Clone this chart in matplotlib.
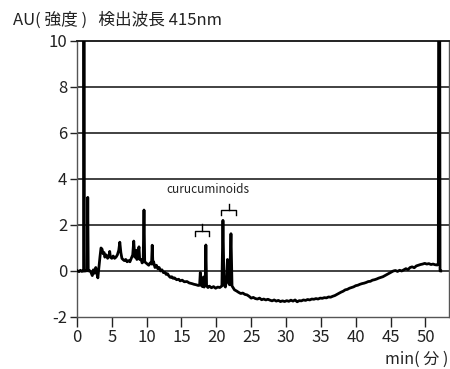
import matplotlib.pyplot as plt

plt.rcParams['font.family'] = ['Noto Sans CJK JP', 'DejaVu Sans']
plt.rcParams['axes.unicode_minus'] = False

# ── chromatogram trace (retention time in min, absorbance in AU) ─────────────
time_min = [
    0.00, 0.30, 0.50, 0.70, 0.90, 0.98, 1.00, 1.04, 1.30, 1.48, 1.55, 1.62,
    1.80, 2.00, 2.20, 2.35, 2.50, 2.70, 2.85, 3.00, 3.10, 3.30, 3.45, 3.60,
    3.75, 3.90, 4.00, 4.20, 4.40, 4.60, 4.70, 4.80, 5.00, 5.20, 5.40, 5.60,
    5.80, 6.00, 6.15, 6.30, 6.45, 6.60, 6.80, 7.00, 7.20, 7.40, 7.60, 7.80,
    8.00, 8.15, 8.30, 8.50, 8.60, 8.75, 8.90, 9.00, 9.20, 9.35, 9.50, 9.62,
    9.72, 9.90, 10.1, 10.3, 10.5, 10.7, 10.8, 10.9, 11.0, 11.2, 11.4, 11.6,
    11.8, 12.0, 12.2, 12.4, 12.6, 12.8, 13.0, 13.2, 13.4, 13.6, 13.8, 14.0,
    14.3, 14.6, 14.8, 15.1, 15.4, 15.8, 16.1, 16.5, 16.8, 17.1, 17.4, 17.6,
    17.7, 17.8, 18.0, 18.15, 18.25, 18.4, 18.5, 18.6, 18.8, 19.0, 19.3, 19.6,
    19.9, 20.2, 20.5, 20.8, 20.95, 21.1, 21.3, 21.45, 21.6, 21.75, 21.9, 22.1,
    22.25, 22.4, 22.6, 22.9, 23.2, 23.5, 23.8, 24.1, 24.4, 24.7, 25.0, 25.3,
    25.6, 25.9, 26.2, 26.5, 26.8, 27.1, 27.4, 27.7, 28.0, 28.3, 28.6, 28.9,
    29.2, 29.5, 29.8, 30.1, 30.4, 30.7, 31.0, 31.3, 31.6, 31.9, 32.2, 32.5,
    32.8, 33.1, 33.4, 33.7, 34.0, 34.3, 34.6, 34.9, 35.2, 35.5, 35.8, 36.1,
    36.4, 36.7, 37.0, 37.3, 37.6, 37.9, 38.2, 38.5, 38.8, 39.1, 39.4, 39.7,
    40.0, 40.3, 40.6, 40.9, 41.2, 41.5, 41.8, 42.1, 42.4, 42.7, 43.0, 43.3,
    43.6, 43.9, 44.2, 44.5, 44.8, 45.1, 45.4, 45.7, 46.0, 46.3, 46.6, 46.9,
    47.2, 47.5, 47.8, 48.1, 48.4, 48.7, 49.0, 49.3, 49.6, 49.9, 50.2, 50.5,
    50.8, 51.1, 51.4, 51.7, 51.85, 51.9, 52.05, 52.1, 52.2,
]
absorbance = [
    0.02, -0.03, 0.03, -0.02, 0.00, 0.00, 12.0, 0.00, 0.00, 0.05, 3.20, 0.00,
    0.02, -0.05, -0.20, 0.05, -0.10, 0.15, -0.10, -0.30, 0.00, 0.60, 1.00, 0.95,
    0.75, 0.80, 0.60, 0.70, 0.55, 0.65, 0.85, 0.60, 0.55, 0.65, 0.55, 0.60,
    0.70, 0.90, 1.25, 0.80, 0.55, 0.50, 0.45, 0.50, 0.40, 0.45, 0.40, 0.55,
    0.70, 1.30, 0.60, 0.90, 0.50, 0.70, 1.05, 0.50, 0.50, 0.35, 0.40, 2.65,
    0.40, 0.35, 0.30, 0.25, 0.35, 0.30, 1.12, 0.30, 0.40, 0.15, 0.25, 0.10,
    0.15, 0.00, 0.05, -0.07, -0.05, -0.15, -0.12, -0.22, -0.28, -0.25, -0.32, -0.30,
    -0.38, -0.36, -0.43, -0.40, -0.47, -0.46, -0.52, -0.55, -0.58, -0.60, -0.63, -0.62,
    -0.07, -0.60, -0.68, -0.26, -0.70, -0.60, 1.13, -0.65, -0.72, -0.66, -0.73, -0.68,
    -0.75, -0.70, -0.72, -0.65, 2.20, -0.60, -0.70, -0.40, 0.50, -0.50, -0.60, 1.62,
    -0.65, -0.72, -0.82, -0.87, -0.93, -0.98, -0.96, -1.02, -1.04, -1.10, -1.18, -1.15,
    -1.20, -1.22, -1.18, -1.25, -1.22, -1.26, -1.23, -1.27, -1.30, -1.26, -1.31, -1.28,
    -1.33, -1.30, -1.33, -1.29, -1.32, -1.27, -1.31, -1.26, -1.34, -1.29, -1.30, -1.26,
    -1.28, -1.24, -1.26, -1.22, -1.23, -1.20, -1.22, -1.18, -1.19, -1.16, -1.17, -1.13,
    -1.14, -1.10, -1.07, -1.02, -0.97, -0.92, -0.88, -0.82, -0.80, -0.75, -0.72, -0.69,
    -0.64, -0.62, -0.58, -0.55, -0.53, -0.50, -0.46, -0.45, -0.40, -0.38, -0.35, -0.31,
    -0.28, -0.25, -0.20, -0.15, -0.10, -0.05, 0.00, 0.02, -0.02, 0.03, 0.00, 0.05,
    0.10, 0.06, 0.15, 0.18, 0.14, 0.22, 0.25, 0.28, 0.30, 0.33, 0.30, 0.32,
    0.28, 0.30, 0.27, 0.26, 0.30, 12.0, 12.0, 0.00, 0.00,
]

# curcuminoid peak groups: (start, end, height of bracket)
bracket_start = [16.9, 20.7]
bracket_end = [19.0, 22.8]
bracket_level = [1.75, 2.65]

x_ticks = list(range(0, 55, 5))
y_ticks = [-2, 0, 2, 4, 6, 8, 10]

# ── figure ───────────────────────────────────────────────────────────────────
fig = plt.figure(figsize=(4.5, 3.69), dpi=100)
ax = fig.add_axes([0.171, 0.141, 0.827, 0.748])

for y in [0, 2, 4, 6, 8]:
    ax.axhline(y, color='#333333', lw=1.3, zorder=1)

ax.plot(time_min, absorbance, color='black', lw=2.0, zorder=3)

# brackets over the curcuminoid peaks
for s, e, lev in zip(bracket_start, bracket_end, bracket_level):
    mid = (s + e) / 2
    ax.plot([s, s, e, e], [lev - 0.22, lev, lev, lev - 0.22], color='black', lw=1.0, zorder=4)
    ax.plot([mid, mid], [lev, lev + 0.28], color='black', lw=1.0, zorder=4)

ax.text(18.8, 3.55, 'curucuminoids', fontsize=8.5, ha='center', va='center', color='#222222')

ax.set_xlim(0, 53.4)
ax.set_ylim(-2, 10)
ax.set_xticks(x_ticks)
ax.set_yticks(y_ticks)
ax.tick_params(axis='both', labelsize=12, colors='#222222', width=1.0)
ax.tick_params(axis='x', length=7, direction='out', pad=2)
ax.tick_params(axis='y', length=5, direction='out', pad=2)
for sp in ['left', 'bottom', 'right']:
    ax.spines[sp].set_color('#555555')
    ax.spines[sp].set_linewidth(1.0)
ax.spines['top'].set_color('#222222')
ax.spines['top'].set_linewidth(1.4)

fig.text(0.029, 0.946, 'AU( 強度 )   検出波長 415nm', fontsize=12, ha='left', va='center', color='#222222')
fig.text(0.996, 0.004, 'min( 分 )', fontsize=11.5, ha='right', va='bottom', color='#222222')

fig.savefig('out.png', dpi=100)
